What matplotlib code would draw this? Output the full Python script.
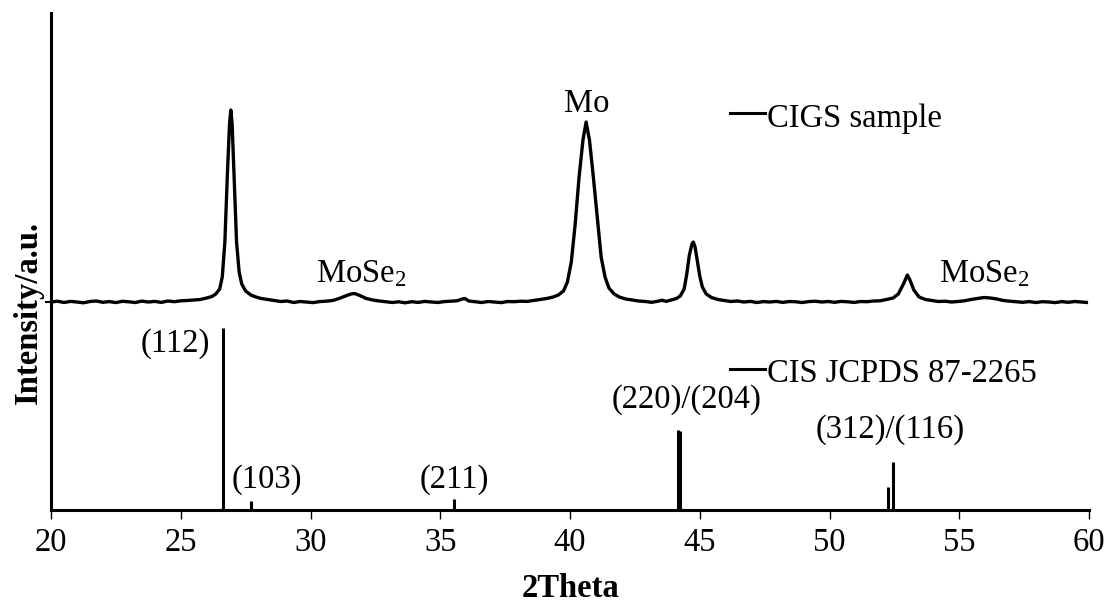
import numpy as np
import matplotlib
matplotlib.use("Agg")
import matplotlib.pyplot as plt

# Times-like look of the original (Excel) chart
plt.rcParams['font.family'] = ['Liberation Serif', 'DejaVu Serif']
plt.rcParams['mathtext.fontset'] = 'custom'
plt.rcParams['mathtext.rm'] = 'Liberation Serif'
plt.rcParams['mathtext.it'] = 'Liberation Serif:italic'
plt.rcParams['mathtext.bf'] = 'Liberation Serif:bold'

FS = 23.5

# --- measured CIGS sample scan (2theta, intensity above its own baseline) ---
cigs_2theta = [
    20.0, 20.25, 20.5, 20.75, 21.0, 21.25, 21.5, 21.75, 22.0, 22.25,
    22.5, 22.75, 23.0, 23.25, 23.5, 23.75, 24.0, 24.25, 24.5, 24.75,
    25.0, 25.25, 25.5, 25.75, 26.0, 26.2, 26.35, 26.5, 26.6, 26.7,
    26.8, 26.88, 26.93, 26.98, 27.05, 27.15, 27.25, 27.35, 27.5, 27.7,
    27.9, 28.1, 28.35, 28.6, 28.85, 29.1, 29.35, 29.6, 29.85, 30.1,
    30.35, 30.6, 30.85, 31.1, 31.35, 31.55, 31.7, 31.9, 32.15, 32.4,
    32.65, 32.9, 33.15, 33.4, 33.65, 33.9, 34.15, 34.4, 34.65, 34.9,
    35.15, 35.4, 35.65, 35.85, 35.95, 36.1, 36.35, 36.6, 36.85, 37.1,
    37.35, 37.6, 37.85, 38.1, 38.35, 38.6, 38.85, 39.1, 39.35, 39.55,
    39.75, 39.9, 40.05, 40.2, 40.35, 40.5, 40.62, 40.75, 40.9, 41.05,
    41.2, 41.35, 41.5, 41.7, 41.9, 42.15, 42.4, 42.65, 42.9, 43.15,
    43.4, 43.55, 43.7, 43.9, 44.1, 44.25, 44.4, 44.5, 44.6, 44.7,
    44.75, 44.82, 44.9, 45.0, 45.1, 45.25, 45.45, 45.7, 45.95, 46.2,
    46.45, 46.7, 46.95, 47.2, 47.45, 47.7, 47.95, 48.2, 48.45, 48.7,
    48.95, 49.2, 49.45, 49.7, 49.95, 50.2, 50.45, 50.7, 50.95, 51.2,
    51.45, 51.7, 51.95, 52.2, 52.45, 52.65, 52.85, 53.0, 53.1, 53.25,
    53.45, 53.7, 53.95, 54.2, 54.45, 54.7, 54.95, 55.2, 55.45, 55.7,
    55.95, 56.2, 56.45, 56.7, 56.95, 57.2, 57.45, 57.7, 57.95, 58.2,
    58.45, 58.7, 58.95, 59.2, 59.45, 59.7, 59.9,
]
cigs_counts = [
    0, 0.8, -0.5, 0.6, 0, -0.8, 0.5, 1.0, -0.3, 0.4,
    -0.6, 0.7, 0.2, -0.5, 0.9, 0, 0.6, -0.4, 1.0, 0.3,
    1.2, 1.5, 2.0, 2.5, 4.0, 5.5, 8.0, 13, 25, 60,
    130, 178, 192, 178, 130, 60, 30, 18, 11, 7,
    5, 3.5, 2.5, 1.5, 0.5, 1.0, -0.5, 0.5, 0, -0.6,
    0.4, 0.8, 1.5, 3.5, 6, 8, 8.5, 6.5, 3.5, 2,
    1, 0.3, -0.5, 0.2, -0.8, 0.3, -0.4, 0.6, 0, -0.5,
    0.4, 0.8, 1.2, 3, 3.5, 1, 0.2, -0.5, 0.5, 0,
    -0.6, 0.5, 0.3, 0.8, 0.6, 1.5, 2.5, 3.5, 5, 7,
    11, 20, 40, 78, 125, 162, 180, 162, 125, 85,
    45, 25, 14, 8, 5, 3, 2, 1, 0.5, -0.3,
    0.8, 1.8, 0.6, 2, 3.5, 6, 13, 28, 47, 58,
    60, 55, 42, 26, 15, 8, 4.5, 2.5, 1.5, 0.5,
    1, 0, 0.6, -0.5, 0.4, 0, 0.6, -0.4, 0.5, 0.2,
    -0.5, 0.4, 0.8, 0, 0.5, -0.3, 0.6, 0.2, -0.4, 0.5,
    0.3, 1, 1.2, 2.5, 4, 8, 18, 27, 22, 12,
    5, 2.5, 1.5, 0.5, 0.8, 0, 0.5, 1.2, 2.5, 3.5,
    4.5, 4, 3, 1.5, 0.8, 0.3, -0.3, 0.4, -0.5, 0.3,
    0, -0.6, 0.4, -0.3, 0.5, 0, -0.4,
]
cigs_offset = 208  # sample trace sits above the reference pattern

# --- CIS reference pattern, JCPDS 87-2265 (stick positions / heights) ---
cis_2theta = [26.64, 27.71, 35.53, 44.17, 44.25, 52.25, 52.45]
cis_height = [182, 9, 11, 80, 79, 23, 48]

# peak labels for the reference pattern: (text, 2theta, height)
hkl_labels = [
    ("(112)", 24.78, 158),
    ("(103)", 28.30, 22),
    ("(211)", 35.53, 22),
    ("(220)/(204)", 44.49, 102),
    ("(312)/(116)", 52.33, 72),
]
phase_labels = [
    ("Mo", 40.65, 398),
    ("MoSe$_\\mathrm{2}$", 31.95, 228),
    ("MoSe$_\\mathrm{2}$", 55.95, 228),
]

W, H = 1109, 606
fig = plt.figure(figsize=(W / 100, H / 100), dpi=100)
ax = fig.add_axes([51 / W, 1 - 510 / H, (1089 - 51) / W, (510 - 13) / H])

x = np.array(cigs_2theta)
y = np.array(cigs_counts) + cigs_offset
assert len(x) == len(y)
ax.plot(x, y, color='black', lw=2.4, solid_joinstyle='round')
ax.vlines(cis_2theta, 0, cis_height, color='black', lw=2.2)

for txt, xx, yy in hkl_labels + phase_labels:
    ax.text(xx, yy, txt, ha='center', va='baseline', fontsize=FS)

# legend-style captions: short dash followed by the series name
for name, y_line, y_txt in [("CIGS sample", 397, 383),
                            ("CIS JCPDS 87-2265", 141, 128)]:
    ax.plot([46.16, 47.50], [y_line, y_line], color='black', lw=2.2)
    ax.text(47.58, y_txt, name, ha='left', va='baseline', fontsize=FS)

ax.set_xlim(20, 60)
ax.set_ylim(0, 497)
ax.set_xticks(range(20, 61, 5))
ax.set_yticks([cigs_offset])
ax.set_yticklabels([])
ax.tick_params(axis='x', direction='out', length=6.5, width=1.0,
               labelsize=FS, pad=6)
ax.tick_params(axis='y', direction='out', length=4, width=1.5)
for side in ['top', 'right']:
    ax.spines[side].set_visible(False)
for side in ['left', 'bottom']:
    ax.spines[side].set_linewidth(2.2)

fig.text(570 / W, 1 - 597 / H, "2Theta", ha='center', va='baseline',
         fontsize=FS, fontweight='bold')
fig.text(28 / W, 1 - 312 / H, "Intensity/a.u.", ha='center', va='center',
         rotation=90, fontsize=FS, fontweight='bold')

fig.savefig("out.png", dpi=100)
